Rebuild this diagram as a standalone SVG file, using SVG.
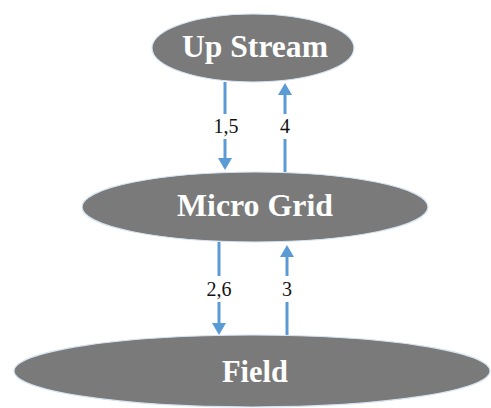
<svg xmlns="http://www.w3.org/2000/svg" width="491" height="408" viewBox="0 0 491 408">
<style>
.node{fill:#7a7a7a;stroke:#d6e4f2;stroke-width:1.2}
.nt{font-family:"Liberation Serif",serif;font-weight:bold;font-size:31px;fill:#ffffff;text-anchor:middle}
.ln{stroke:#5b9bd5;stroke-width:3;fill:none}
.lb{font-family:"Liberation Serif",serif;font-size:20px;fill:#111111;text-anchor:middle}
</style>
<defs>
<marker id="ah" markerUnits="userSpaceOnUse" markerWidth="12" markerHeight="14" viewBox="0 0 12 14" refX="0" refY="7" orient="auto">
<path d="M0,0 L12,7 L0,14 z" fill="#5b9bd5"/>
</marker>
</defs>
<rect width="491" height="408" fill="#ffffff"/>
<g id="upstream">
<ellipse class="node" cx="253" cy="48" rx="101" ry="34"/>
<text class="nt" x="255" y="57" textLength="146" lengthAdjust="spacingAndGlyphs">Up Stream</text>
</g>
<g id="microgrid">
<ellipse class="node" cx="255" cy="207" rx="173" ry="35"/>
<text class="nt" x="255" y="216" textLength="156" lengthAdjust="spacingAndGlyphs">Micro Grid</text>
</g>
<g id="field">
<ellipse class="node" cx="252" cy="371" rx="238" ry="36"/>
<text class="nt" x="255" y="382" textLength="66" lengthAdjust="spacingAndGlyphs">Field</text>
</g>
<g id="connectors">
<line class="ln" x1="225" y1="82" x2="225" y2="114"/>
<line class="ln" x1="225" y1="139" x2="225" y2="158" marker-end="url(#ah)"/>
<text class="lb" x="226" y="133">1,5</text>
<line class="ln" x1="285" y1="172" x2="285" y2="139"/>
<line class="ln" x1="285" y1="114" x2="285" y2="95" marker-end="url(#ah)"/>
<text class="lb" x="285" y="133">4</text>
<line class="ln" x1="219" y1="242" x2="219" y2="276"/>
<line class="ln" x1="219" y1="302" x2="219" y2="323" marker-end="url(#ah)"/>
<text class="lb" x="219" y="296">2,6</text>
<line class="ln" x1="287" y1="335" x2="287" y2="302"/>
<line class="ln" x1="287" y1="276" x2="287" y2="257" marker-end="url(#ah)"/>
<text class="lb" x="287" y="296">3</text>
</g>
</svg>
